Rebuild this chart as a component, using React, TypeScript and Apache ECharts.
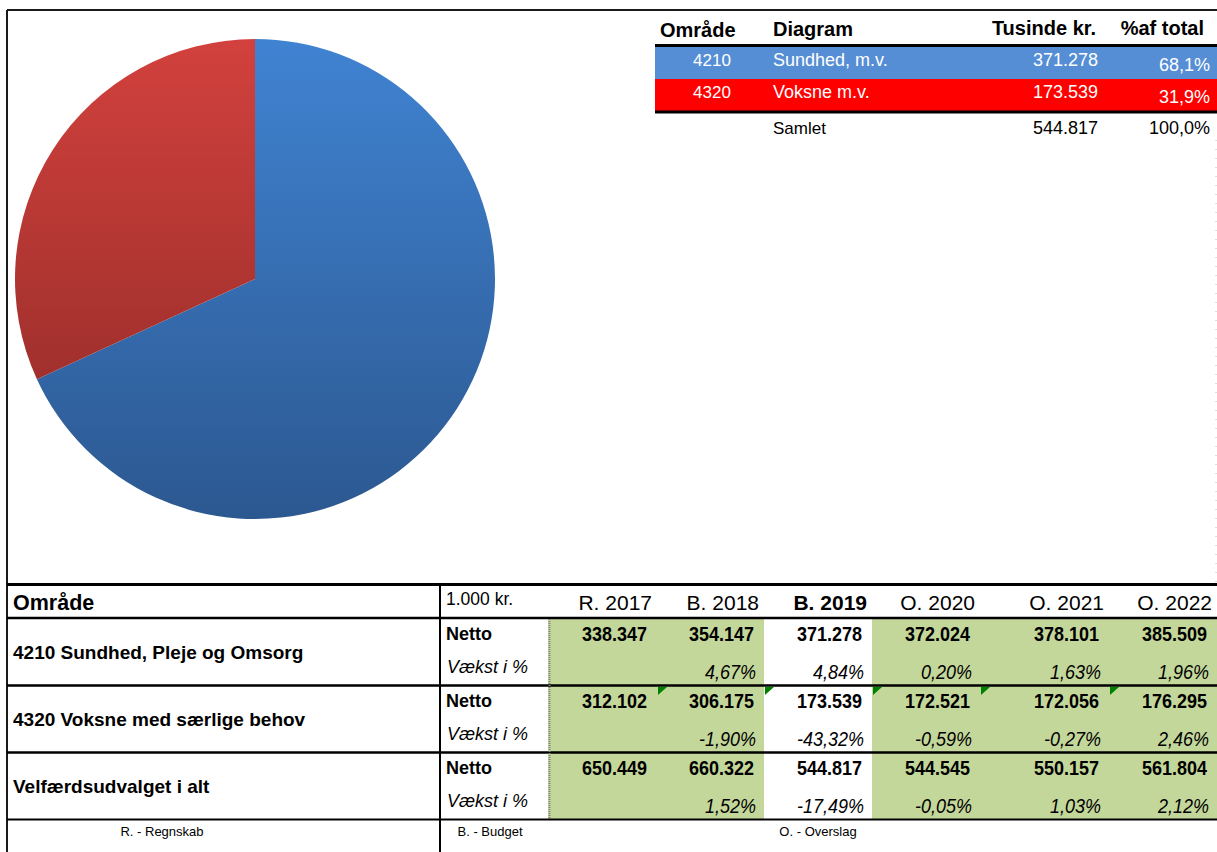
import React, { useEffect, useRef } from 'react';
import * as echarts from 'echarts';

// ---------- data ----------
const areaCodes = ['4210', '4320'];
const areaNames = ['Sundhed, m.v.', 'Voksne m.v.'];
const areaValues = [371278, 173539];
const areaShares = [68.1, 31.9];
const totalLabel = 'Samlet';
const totalValue = 544817;
const totalShare = 100.0;
const topHeaders = ['Område', 'Diagram', 'Tusinde kr.', '%af total'];

const yearLabels = ['R. 2017', 'B. 2018', 'B. 2019', 'O. 2020', 'O. 2021', 'O. 2022'];
const rowLabels = ['4210 Sundhed, Pleje og Omsorg', '4320 Voksne med særlige behov', 'Velfærdsudvalget i alt'];
const nettoSundhed = [338347, 354147, 371278, 372024, 378101, 385509];
const vaekstSundhed = [null, 4.67, 4.84, 0.2, 1.63, 1.96];
const nettoVoksne = [312102, 306175, 173539, 172521, 172056, 176295];
const vaekstVoksne = [null, -1.9, -43.32, -0.59, -0.27, 2.46];
const nettoTotal = [650449, 660322, 544817, 544545, 550157, 561804];
const vaekstTotal = [null, 1.52, -17.49, -0.05, 1.03, 2.12];
const footerLabels = ['R. - Regnskab', 'B. - Budget', 'O. - Overslag'];

// ---------- helpers ----------
const FONT = '"Liberation Sans", Arial, sans-serif';

function fmtInt(n: number): string {
  const s = Math.abs(Math.round(n)).toString();
  const out = s.replace(/\B(?=(\d{3})+(?!\d))/g, '.');
  return (n < 0 ? '-' : '') + out;
}
function fmtPct(n: number, d: number): string {
  return n.toFixed(d).replace('.', ',') + '%';
}

function txt(x: number, y: number, text: string, o: any = {}) {
  const align = o.align || 'left';
  return {
    type: 'text',
    x,
    y,
    silent: true,
    scaleX: o.scaleX || 1,
    scaleY: o.scaleY || 1,
    z: 10,
    style: {
      text,
      x: 0,
      y: 0,
      fill: o.fill || '#000',
      fontSize: o.size || 18,
      fontWeight: o.bold ? 'bold' : 'normal',
      fontStyle: o.italic ? 'italic' : 'normal',
      fontFamily: FONT,
      align,
      textAlign: align,
      verticalAlign: 'middle',
      textVerticalAlign: 'middle',
    },
  };
}
function line(x1: number, y1: number, x2: number, y2: number, w = 2, color = '#000', dash?: number[]) {
  return {
    type: 'line',
    silent: true,
    z: 5,
    shape: { x1, y1, x2, y2 },
    style: { stroke: color, lineWidth: w, lineDash: dash },
  };
}
function rect(x: number, y: number, w: number, h: number, fill: string) {
  return { type: 'rect', silent: true, z: 1, shape: { x, y, width: w, height: h }, style: { fill } };
}
function tri(x: number, y: number) {
  return {
    type: 'polygon',
    silent: true,
    z: 6,
    shape: { points: [[x, y], [x + 9, y], [x, y + 8]] },
    style: { fill: '#008000' },
  };
}

function buildGraphics() {
  const g: any[] = [];
  // outer frame
  g.push(line(7, 10, 1217, 10, 2, '#1a1a1a'));
  g.push(line(7, 10, 7, 852, 2, '#1a1a1a'));
  // right dotted edge
  g.push(line(1216, 140, 1216, 584, 1, '#bbbbbb', [1, 8]));

  // ---- top table ----
  const topRowColors = ['#558ed5', '#ff0000'];
  g.push(txt(660, 30, topHeaders[0], { bold: true, size: 20 }));
  g.push(txt(773, 29, topHeaders[1], { bold: true, size: 20 }));
  g.push(txt(1096, 28, topHeaders[2], { bold: true, size: 20, align: 'right' }));
  g.push(txt(1204, 28, topHeaders[3], { bold: true, size: 20, align: 'right' }));
  g.push(line(655, 45.5, 1217, 45.5, 3));
  for (let i = 0; i < areaCodes.length; i++) {
    const y0 = 47 + i * 32;
    g.push(rect(655, y0, 562, 32, topRowColors[i]));
    g.push(txt(712, y0 + 13, areaCodes[i], { fill: '#fff', size: 17, align: 'center' }));
    g.push(txt(773, y0 + 13, areaNames[i], { fill: '#fff', size: 18 }));
    g.push(txt(1098, y0 + 13, fmtInt(areaValues[i]), { fill: '#fff', size: 18, align: 'right' }));
    g.push(txt(1210, y0 + 18, fmtPct(areaShares[i], 1), { fill: '#fff', size: 18, align: 'right' }));
  }
  g.push(line(655, 112, 1217, 112, 3));
  g.push(txt(773, 128, totalLabel, { size: 17 }));
  g.push(txt(1098, 128, fmtInt(totalValue), { size: 18, align: 'right' }));
  g.push(txt(1210, 128, fmtPct(totalShare, 1), { size: 18, align: 'right' }));

  // ---- bottom table ----
  const colEdges = [548, 657, 764, 872, 980, 1109, 1217];
  const rowTops = [618, 685, 752];
  const rowBottom = 819;
  // green fills
  const greenCols = [true, true, false, true, true, true];
  for (let c = 0; c < 6; c++) {
    if (greenCols[c]) g.push(rect(colEdges[c], 619, colEdges[c + 1] - colEdges[c], rowBottom - 619, '#c4d79b'));
  }
  // lines
  g.push(line(7, 584.5, 1217, 584.5, 3));
  g.push(line(7, 618, 1217, 618, 2.5));
  g.push(line(7, 685.5, 1217, 685.5, 2.5));
  g.push(line(7, 752.5, 1217, 752.5, 2.5));
  g.push(line(7, 819.5, 1217, 819.5, 2));
  g.push(line(440, 585, 440, 852, 2));
  g.push(line(549.5, 619, 549.5, 819, 2, '#808080', [1, 1]));

  // header
  g.push(txt(13, 603, 'Område', { bold: true, size: 21.5 }));
  g.push(txt(446, 599, '1.000 kr.', { size: 17.5 }));
  for (let c = 0; c < 6; c++) {
    g.push(txt(colEdges[c + 1] - 5, 602, yearLabels[c], { size: 21, align: 'right', bold: c === 2 }));
  }

  const nettoRows = [nettoSundhed, nettoVoksne, nettoTotal];
  const vaekstRows = [vaekstSundhed, vaekstVoksne, vaekstTotal];
  for (let r = 0; r < 3; r++) {
    const top = rowTops[r];
    g.push(txt(13, top + 34, rowLabels[r], { bold: true, size: 19 }));
    g.push(txt(446, top + 16, 'Netto', { bold: true, size: 18 }));
    g.push(txt(447, top + 49, 'Vækst i %', { italic: true, size: 18 }));
    for (let c = 0; c < 6; c++) {
      const xr = colEdges[c + 1] - 10;
      g.push(txt(xr, top + 16.5, fmtInt(nettoRows[r][c]), { bold: true, size: 18, align: 'right', scaleY: 1.12 }));
      const v = vaekstRows[r][c];
      if (v !== null && v !== undefined) {
        g.push(txt(xr + 2, top + 54, fmtPct(v, 2), { italic: true, size: 18, align: 'right', scaleY: 1.12 }));
      }
    }
  }
  // error indicators (row 2 netto)
  for (let c = 1; c < 6; c++) g.push(tri(colEdges[c] + 1, 687));

  // footer
  g.push(txt(162, 831, footerLabels[0], { size: 13, align: 'center' }));
  g.push(txt(490, 831, footerLabels[1], { size: 13, align: 'center' }));
  g.push(txt(818, 831, footerLabels[2], { size: 13, align: 'center' }));
  return g;
}

export default function App() {
  const ref = useRef<HTMLDivElement>(null);
  useEffect(() => {
    document.body.style.margin = '0';
    const chart = echarts.init(ref.current!, null, { renderer: 'svg' });
    const blue = new echarts.graphic.LinearGradient(0, 39, 0, 519, [
      { offset: 0, color: '#4083d2' },
      { offset: 1, color: '#2c5890' },
    ], true);
    const red = new echarts.graphic.LinearGradient(0, 39, 0, 519, [
      { offset: 0, color: '#d2413d' },
      { offset: 1, color: '#8c2926' },
    ], true);
    const colors = [blue, red];
    chart.setOption({
      animation: false,
      series: [
        {
          type: 'pie',
          center: [255, 279],
          radius: 240,
          startAngle: 90,
          clockwise: true,
          silent: true,
          label: { show: false },
          labelLine: { show: false },
          itemStyle: { borderWidth: 0 },
          data: areaNames.map((n, i) => ({ name: n, value: areaValues[i], itemStyle: { color: colors[i] } })),
        },
      ],
      graphic: { elements: buildGraphics() },
    });
    return () => chart.dispose();
  }, []);
  return <div ref={ref} style={{ width: 1217, height: 852 }} />;
}
